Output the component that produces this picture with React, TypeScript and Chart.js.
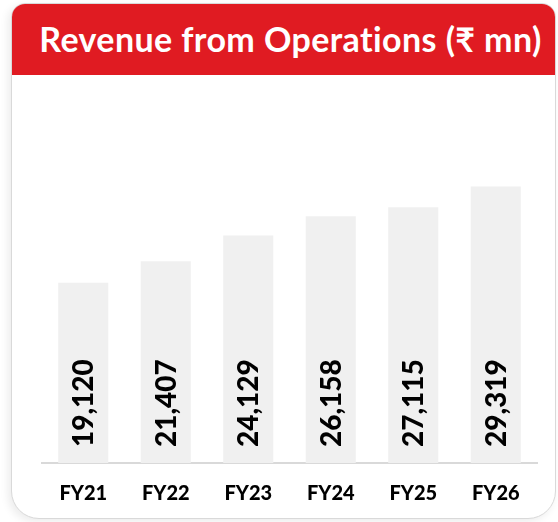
import React, { useEffect, useRef } from "react";
import { Chart, registerables } from "chart.js";

Chart.register(...registerables);

const TITLE = "Revenue from Operations (₹ mn)";
const CATEGORIES = ["FY21", "FY22", "FY23", "FY24", "FY25", "FY26"];
const REVENUE = [19120, 21407, 24129, 26158, 27115, 29319];
const Y_MIN = 0;
const Y_MAX = 35000;

const FONT = "Lato, 'Open Sans', 'DejaVu Sans', sans-serif";

const barLabelPlugin = {
  id: "barLabels",
  afterDatasetsDraw(chart: any) {
    const ctx = chart.ctx;
    const meta = chart.getDatasetMeta(0);
    ctx.save();
    ctx.fillStyle = "#000000";
    ctx.font = `900 28px ${FONT}`;
    ctx.textAlign = "left";
    ctx.textBaseline = "middle";
    meta.data.forEach((bar: any, i: number) => {
      const v = chart.data.datasets[0].data[i] as number;
      ctx.save();
      ctx.translate(bar.x, bar.base - 16);
      ctx.rotate(-Math.PI / 2);
      ctx.fillText(v.toLocaleString("en-US"), 0, 1);
      ctx.restore();
    });
    ctx.restore();
  },
};

function RevenueChart() {
  const ref = useRef<HTMLCanvasElement | null>(null);
  useEffect(() => {
    if (!ref.current) return;
    const chart = new Chart(ref.current, {
      type: "bar",
      data: {
        labels: CATEGORIES,
        datasets: [
          {
            data: REVENUE,
            backgroundColor: "#F0F0F0",
            borderWidth: 0,
            barPercentage: 0.607,
            categoryPercentage: 1,
          },
        ],
      },
      options: {
        animation: false,
        responsive: false,
        maintainAspectRatio: false,
        layout: { padding: { left: 42, right: 21, top: 34, bottom: 16 } },
        plugins: {
          legend: { display: false },
          tooltip: { enabled: false },
          title: { display: false },
        },
        scales: {
          x: {
            grid: { display: false, drawTicks: false },
            border: { display: true, color: "#D9D9D9", width: 2 },
            ticks: {
              color: "#000000",
              font: { family: FONT, size: 20, weight: "900" },
              padding: 19,
            },
          },
          y: {
            display: false,
            min: Y_MIN,
            max: Y_MAX,
          },
        },
      },
      plugins: [barLabelPlugin],
    });
    return () => chart.destroy();
  }, []);
  return <canvas ref={ref} width={558} height={442} style={{ display: "block", width: 558, height: 442 }} />;
}

export default function App() {
  return (
    <div style={{ position: "relative", width: 558, height: 522, overflow: "hidden", background: "#ffffff" }}>
      <style>{"html,body{margin:0;padding:0;background:#fff;}"}</style>
      <div
        style={{
          position: "absolute",
          left: 11,
          top: 3,
          width: 545,
          height: 516,
          boxSizing: "border-box",
          border: "1.5px solid #D9D9D9",
          borderRadius: "14px 14px 28px 28px",
          boxShadow: "-3px 3px 8px rgba(0,0,0,0.08)",
          overflow: "hidden",
          background: "#fff",
        }}
      >
        <div
          style={{
            position: "absolute",
            left: 0,
            top: 0,
            right: 0,
            height: 71,
            background: "#E01B22",
          }}
        />
      </div>
      <div
        style={{
          position: "absolute",
          left: 11,
          top: 3,
          width: 547,
          height: 71,
          display: "flex",
          alignItems: "center",
          justifyContent: "center",
          paddingLeft: 12,
          boxSizing: "border-box",
          color: "#ffffff",
          fontFamily: FONT,
          fontWeight: 700,
          fontSize: 34,
          letterSpacing: 0.4,
          whiteSpace: "nowrap",
        }}
      >
        {TITLE}
      </div>
      <div style={{ position: "absolute", left: 0, top: 99 }}>
        <RevenueChart />
      </div>
    </div>
  );
}
